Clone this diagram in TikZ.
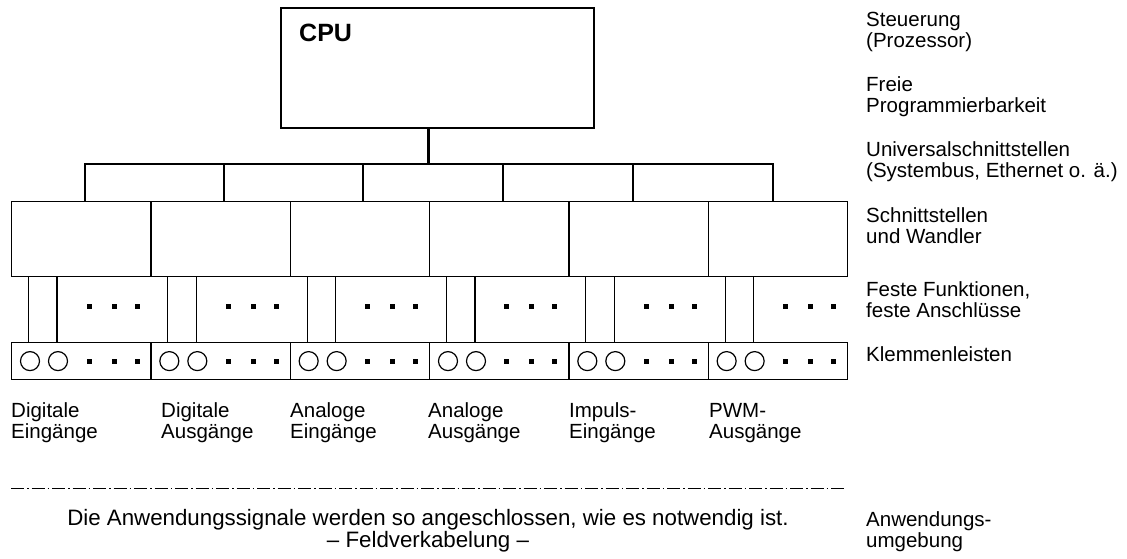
\documentclass[tikz,border=0pt]{standalone}
\usepackage{fontspec}
\setmainfont{Liberation Sans}
\usetikzlibrary{positioning, calc}

\tikzset{
  box/.style={draw, line width=1.2pt, minimum width=139.33pt, inner sep=0pt, anchor=north west},
  bus/.style={line width=2.8pt},
  lbl/.style={anchor=base west, inner sep=0pt, align=left, font=\fontsize{20.5}{21}\selectfont},
  pin/.style={fill, minimum size=5pt, inner sep=0pt},
}

\begin{document}
\begin{tikzpicture}[x=1pt, y=-1pt]
  \useasboundingbox (0,0) rectangle (1127,559);

  % CPU
  \node[draw, line width=2pt, minimum width=313pt, minimum height=120pt,
        inner sep=0pt, anchor=north west] (cpu) at (280,7) {};
  \node[anchor=base west, inner sep=0pt, font=\bfseries\fontsize{25}{30}\selectfont]
        (cputxt) at (299,42) {CPU};

  % Modules: interfaces, fixed functions, terminal strips
  \foreach \i in {1,...,6} {
    \pgfmathsetmacro{\x}{11+(\i-1)*139.33}
    \node[box, minimum height=75pt] (if\i) at (\x,201) {};
    \node[box, minimum height=37pt] (kl\i) at (\x,342) {};
    \draw[line width=1.2pt] ($(if\i.south west)+(17.5,0)$) -- ($(kl\i.north west)+(17.5,0)$);
    \draw[line width=1.2pt] ($(if\i.south west)+(46,0)$) -- ($(kl\i.north west)+(46,0)$);
    \draw[line width=1.2pt] ($(kl\i.west)+(19,0)$) circle (9.5pt);
    \draw[line width=1.2pt] ($(kl\i.west)+(47,0)$) circle (9.5pt);
    \foreach \d in {78,103,126} {
      \node[pin] at ($(if\i.south west)+(\d,29)$) {};
      \node[pin] at ($(kl\i.west)+(\d,0)$) {};
    }
  }

  % Bus
  \foreach \x [count=\i] in {85,224,363,503,633,773}
    \coordinate (b\i) at (\x,164);
  \coordinate (stem) at (428.5,164);
  \draw[bus] (cpu.south -| stem) -- (stem);
  \draw[bus] (b1 |- if1.north) -- (b1) -- (b6) -- (b6 |- if1.north);
  \foreach \i in {2,...,5}
    \draw[bus] (b\i) -- (b\i |- if1.north);

  % Signal labels (base = last line)
  \foreach \x/\txt [count=\i] in {11/{Digitale\\Eingänge}, 161/{Digitale\\Ausgänge},
      290/{Analoge\\Eingänge}, 428/{Analoge\\Ausgänge},
      569/{Impuls-\\Eingänge}, 709/{PWM-\\Ausgänge}}
    \node[lbl] (sig\i) at (\x,438) {\txt};

  % Field boundary
  \coordinate (fl) at (11,488);
  \coordinate (fr) at (847,488);
  \draw[line width=1pt, dash pattern=on 13pt off 3pt on 1.5pt off 3pt] (fl) -- (fr);

  \node[lbl, anchor=base, align=center, font=\fontsize{22.3}{21.5}\selectfont]
    (feld) at (428,547)
    {Die Anwendungssignale werden so angeschlossen, wie es notwendig ist.\\– Feldverkabelung –};

  % Layer names
  \node[lbl] (r1) at (866,48) {Steuerung\\(Prozessor)};
  \node[lbl] (r2) at (866,113) {Freie\\Programmierbarkeit};
  \node[lbl] (r3) at (866,178) {Universalschnittstellen\\(Systembus, Ethernet o. ä.)};
  \node[lbl] (r4) at (866,243) {Schnittstellen\\und Wandler};
  \node[lbl] (r5) at (866,317) {Feste Funktionen,\\feste Anschlüsse};
  \node[lbl] (r6) at (866,361) {Klemmenleisten};
  \node[lbl] (r7) at (866,547) {Anwendungs-\\umgebung};
\end{tikzpicture}
\end{document}
